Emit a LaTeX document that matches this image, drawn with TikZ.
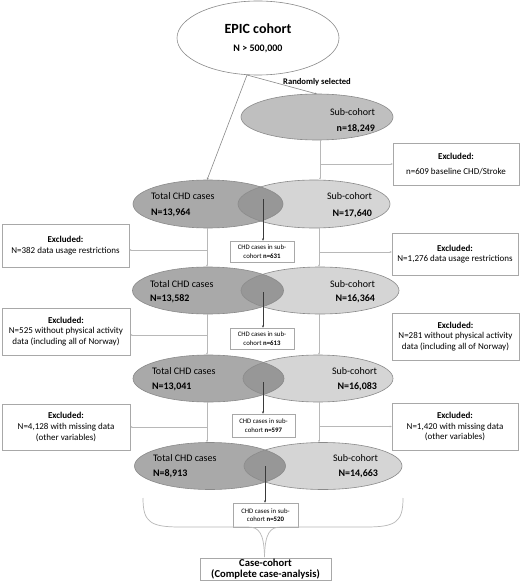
\documentclass[tikz,border=0pt]{standalone}
\usepackage{fontspec}
\setmainfont{Carlito}
\usetikzlibrary{shapes.geometric,arrows.meta}
\definecolor{gLeft}{HTML}{A9A9A9}
\definecolor{gRight}{HTML}{D5D5D5}
\definecolor{gLens}{HTML}{979797}
\definecolor{gTop}{HTML}{BFBFBF}
\definecolor{gOut}{HTML}{8A8A8A}
\definecolor{gBox}{HTML}{A8A8A8}
\definecolor{gLine}{HTML}{B8B8B8}
\definecolor{gDark}{HTML}{3A3A3A}
\begin{document}
\begin{tikzpicture}[x=1pt,y=-1pt,
  every node/.style={inner sep=0pt, outer sep=0pt},
  ell/.style={ellipse, inner sep=0pt},
  vouter/.style={draw=gOut, line width=0.6pt},
  vtxt/.style={font=\fontsize{10}{12}\selectfont},
  vnum/.style={font=\fontsize{10}{12}\selectfont\bfseries},
  exbox/.style={draw=gBox, line width=0.6pt, align=center, font=\fontsize{9}{10.6}\selectfont},
  chdbox/.style={draw=gBox, line width=0.6pt, align=center, font=\fontsize{6.8}{8.4}\selectfont},
  light/.style={draw=gLine, line width=0.6pt, -{Latex[length=2.2pt,width=2pt]}},
  midline/.style={draw=gOut, line width=0.6pt, -{Latex[length=2.2pt,width=2pt]}},
  dark/.style={draw=gDark, line width=0.8pt, -{Latex[length=2.4pt,width=2.2pt]}},
  bracel/.style={draw=gLine, line width=0.7pt}
]
\useasboundingbox[fill=white] (0,0) rectangle (520,583);

% EPIC cohort
\node[ell, draw=gOut, line width=0.6pt, fill=white, minimum width=162pt, minimum height=74pt] (epic) at (258,38) {};
\node[font=\fontsize{14}{16}\selectfont\bfseries] (epicT) at (258,29) {EPIC cohort};
\node[font=\fontsize{10}{12}\selectfont\bfseries] (epicN) at (258,49) {N > 500,000};
\coordinate (epicfoot) at (247,75);

% top sub-cohort
\node[ell, draw=gOut, line width=0.6pt, fill=gTop, minimum width=152pt, minimum height=46pt] (sub0) at (317,117) {};
\node[vtxt, anchor=base east] (sub0T) at (375,115.5) {Sub-cohort};
\node[vnum, anchor=base east] (sub0N) at (375,131.5) {n=18,249};
\node[font=\fontsize{8.6}{10}\selectfont\bfseries] (rand) at (317,82) {Randomly selected};

\newcommand\vennpair[7]{%
  \node[ell, fill=gLeft, minimum width=2*#3, minimum height=2*#7] (L#1) at (#2,#6) {};
  \node[ell, fill=gRight, minimum width=2*#5, minimum height=2*#7] (R#1) at (#4,#6) {};
  \begin{scope}
    \clip (#2,#6) ellipse [x radius=#3, y radius=#7];
    \fill[gLens] (#4,#6) ellipse [x radius=#5, y radius=#7];
  \end{scope}
  \draw[vouter] (#2,#6) ellipse [x radius=#3, y radius=#7];
  \draw[vouter] (#4,#6) ellipse [x radius=#5, y radius=#7];
}

\vennpair{1}{208}{75}{314}{76}{204}{24}
\vennpair{2}{208}{75.5}{320}{79}{290.5}{23.5}
\vennpair{3}{208.5}{75.5}{318}{75}{378.5}{23.5}
\vennpair{4}{210}{75.5}{323}{79}{466}{23.5}

% Venn texts
\node[vtxt, anchor=base west] (L1a) at (151,199.5) {Total CHD cases};
\node[vnum, anchor=base west] (L1b) at (151,215.5) {N=13,964};
\node[vtxt, anchor=base east] (R1a) at (372,199.5) {Sub-cohort};
\node[vnum, anchor=base east] (R1b) at (372,216.5) {N=17,640};

\node[vtxt, anchor=base west] (L2a) at (150,287.5) {Total CHD cases};
\node[vnum, anchor=base west] (L2b) at (150,301.5) {N=13,582};
\node[vtxt, anchor=base east] (R2a) at (375,287.5) {Sub-cohort};
\node[vnum, anchor=base east] (R2b) at (375,301.5) {N=16,364};

\node[vtxt, anchor=base west] (L3a) at (152,374.5) {Total CHD cases};
\node[vnum, anchor=base west] (L3b) at (152,389.5) {N=13,041};
\node[vtxt, anchor=base east] (R3a) at (377,374.5) {Sub-cohort};
\node[vnum, anchor=base east] (R3b) at (377,389.5) {N=16,083};

\node[vtxt, anchor=base west] (L4a) at (153,461.5) {Total CHD cases};
\node[vnum, anchor=base west] (L4b) at (153,476.5) {N=8,913};
\node[vtxt, anchor=base east] (R4a) at (378,461.5) {Sub-cohort};
\node[vnum, anchor=base east] (R4b) at (378,476.5) {N=14,663};

% excluded boxes
\node[exbox, minimum width=126pt, minimum height=42pt] (ex0) at (456,164)
  {\textbf{Excluded:}\\[4pt]n=609 baseline CHD/Stroke};
\node[exbox, minimum width=127pt, minimum height=43pt] (exL1) at (65.5,245.5)
  {\textbf{Excluded:}\\N=382 data usage restrictions};
\node[exbox, minimum width=126pt, minimum height=42pt] (exR1) at (455,254)
  {\textbf{Excluded:}\\N=1,276 data usage restrictions};
\node[exbox, minimum width=128pt, minimum height=47pt] (exL2) at (66,331.5)
  {\textbf{Excluded:}\\N=525 without physical activity\\data (including all of Norway)};
\node[exbox, minimum width=127pt, minimum height=47pt] (exR2) at (455.5,336.5)
  {\textbf{Excluded:}\\N=281 without physical activity\\data (including all of Norway)};
\node[exbox, minimum width=128pt, minimum height=46pt] (exL3) at (66,427)
  {\textbf{Excluded:}\\N=4,128 with missing data\\(other variables)};
\node[exbox, minimum width=126pt, minimum height=47pt] (exR3) at (455,426.5)
  {\textbf{Excluded:}\\N=1,420 with missing data\\(other variables)};

% CHD cases in sub-cohort boxes
\node[chdbox, minimum width=64pt, minimum height=21pt] (chd1) at (262,251.5)
  {CHD cases in sub-\\cohort \textbf{n=631}};
\node[chdbox, minimum width=64pt, minimum height=21pt] (chd2) at (262,338.5)
  {CHD cases in sub-\\cohort \textbf{n=613}};
\node[chdbox, minimum width=63pt, minimum height=23pt] (chd3) at (263.5,425.5)
  {CHD cases in sub-\\cohort \textbf{n=597}};
\node[chdbox, minimum width=65pt, minimum height=24pt] (chd4) at (265.5,515)
  {CHD cases in sub-\\cohort \textbf{n=520}};

% final box
\node[draw=gBox, line width=0.6pt, align=center, minimum width=131pt, minimum height=22pt,
      font=\fontsize{10.6}{11.2}\selectfont\bfseries] (final) at (265.5,569)
  {Case-cohort\\(Complete case-analysis)};

% columns
\coordinate (colL) at (207,0);
\coordinate (colR) at (319,0);
\coordinate (colS) at (320,0);

% EPIC connectors
\draw[midline] (epicfoot) -- (sub0.north);
\draw[midline] (epicfoot) -- (colL |- L1.north);

% sub-cohort to Venn 1 and exclusion
\draw[light] (colS |- sub0.south) -- (colS |- R1.north);
\draw[light] (colS |- ex0.west) -- (ex0.west);

% level 1 -> 2
\draw[light] (colL |- L1.south) -- (colL |- L2.north);
\draw[light] (colL |- 0,250) -- (exL1.east |- 0,250);
\draw[light] (colR |- R1.south) -- (colR |- R2.north);
\draw[light] (colR |- 0,252) -- (exR1.west |- 0,252);

% level 2 -> 3
\draw[light] (colL |- L2.south) -- (colL |- L3.north);
\draw[light] (colL |- 0,335) -- (exL2.east |- 0,335);
\draw[light] (colR |- R2.south) -- (colR |- R3.north);

% level 3 -> 4
\draw[light] (colL |- L3.south) -- (colL |- L4.north);
\draw[light] (colL |- exL3.east) -- (exL3.east);
\draw[light] (colR |- R3.south) -- (colR |- R4.north);
\draw[light] (colR |- exR3.west) -- (exR3.west);

% lens arrows
\coordinate (lens1) at (263,199);
\coordinate (lens2) at (263,292);
\coordinate (lens3) at (263,382);
\coordinate (lens4) at (265,466);
\draw[dark] (lens1) -- (lens1 |- chd1.north);
\draw[dark] (lens2) -- (lens2 |- chd2.north);
\draw[dark] (lens3) -- (lens3 |- chd3.north);
\draw[dark] (lens4) -- (lens4 |- chd4.north);

% brace
\coordinate (braceL) at (143,498);
\coordinate (braceR) at (403,498);
\coordinate (braceTip) at (264.5,557);
\draw[bracel] (braceL) .. controls (143,522) and (150,527) .. (180,527)
  -- (248,527) .. controls (259,527) and (264,533) .. (braceTip);
\draw[bracel] (braceR) .. controls (403,522) and (396,527) .. (366,527)
  -- (281,527) .. controls (270,527) and (265,533) .. (braceTip);
\end{tikzpicture}
\end{document}
